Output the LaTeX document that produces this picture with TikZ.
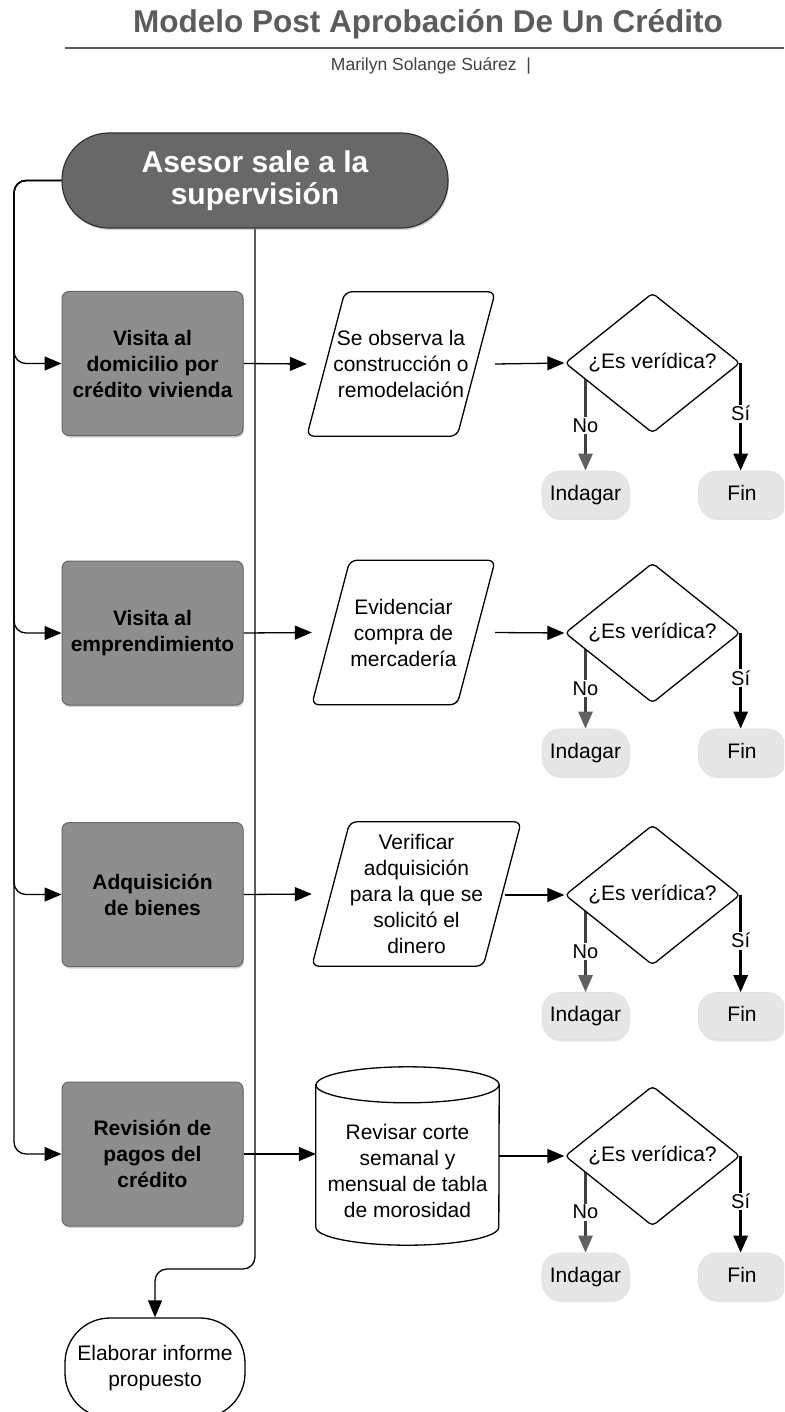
\documentclass[tikz,border=0pt]{standalone}
\usepackage{fontspec}
\setmainfont{Liberation Sans}
\usetikzlibrary{arrows.meta,shadows,backgrounds,shapes.geometric}

\definecolor{termfill}{RGB}{104,104,104}
\definecolor{procfill}{RGB}{142,142,142}
\definecolor{endfill}{RGB}{230,230,230}
\definecolor{titlegray}{RGB}{92,92,92}

\tikzset{
  bodyfont/.style={font=\fontsize{21}{26}\selectfont},
  terminal/.style={rounded corners=47pt, minimum width=386pt, minimum height=95pt,
    fill=termfill, draw=black!80, line width=1.2pt, text=white, align=center,
    font=\bfseries\fontsize{30}{32}\selectfont,
    drop shadow={opacity=0.35, shadow xshift=1pt, shadow yshift=-2pt}},
  procbox/.style={rounded corners=7pt, minimum width=181pt, minimum height=144pt,
    fill=procfill, draw=black!60, line width=1pt, align=center, inner sep=2pt,
    font=\bfseries\fontsize{21}{26}\selectfont,
    drop shadow={opacity=0.35, shadow xshift=1pt, shadow yshift=-2pt}},
  slot/.style={minimum height=144pt, inner sep=0pt, align=center, bodyfont},
  outline/.style={draw=black, line width=1.3pt, fill=white, rounded corners=7pt},
  decision/.style={diamond, draw=black, line width=1.3pt, fill=white, rounded corners=4pt,
    minimum width=175pt, minimum height=140pt, inner sep=0pt, aspect=1.25, bodyfont},
  endbox/.style={rounded corners=18pt, minimum width=87pt, minimum height=47pt,
    fill=endfill, draw=black!12, line width=0.6pt, bodyfont,
    text height=15pt, text depth=4pt,
    drop shadow={opacity=0.2, shadow xshift=1pt, shadow yshift=-2pt}},
  reportbox/.style={rounded corners=45pt, minimum width=180pt, minimum height=100pt,
    fill=white, draw=black, line width=1.3pt, align=center, bodyfont},
  link/.style={draw=black, line width=1.3pt, -{Triangle[length=17pt,width=14pt]}},
  nolink/.style={draw=black!75, line width=2.6pt, -{Triangle[length=17pt,width=14pt,color=black!62,fill=black!62]}},
  yeslink/.style={draw=black, line width=2.8pt, -{Triangle[length=17pt,width=14pt]}},
  lbl/.style={fill=white, inner sep=1.5pt, font=\fontsize{20}{24}\selectfont}
}

\begin{document}
\begin{tikzpicture}[x=1pt,y=-1pt]
\useasboundingbox (0,0) rectangle (784,1412);
\clip (0,0) rectangle (784,1412);

% heading
\node[font=\bfseries\fontsize{31.5}{36}\selectfont, text=titlegray, anchor=base] (title) at (428,33) {Modelo Post Aprobación De Un Crédito};
\draw[titlegray, line width=2pt] (65,48) -- (784,48);
\node[font=\fontsize{17.5}{20}\selectfont, text=black!75, anchor=base] (author) at (431,71) {Marilyn Solange Suárez\ \ |};

% start
\node[terminal] (t) at (255,180.5) {Asesor sale a la\\supervisión};

% activities
\node[procbox] (b1) at (152.5,363.5) {Visita al\\domicilio por\\crédito vivienda};
\node[procbox] (b2) at (152.5,633) {Visita al\\emprendimiento};
\node[procbox] (b3) at (152.5,894.5) {Adquisición\\de bienes};
\node[procbox] (b4) at (152.5,1154) {Revisión de\\pagos del\\crédito};

% inputs / data
\node[slot, minimum width=188pt] (p1) at (401,364) {Se observa la\\construcción o\\remodelación};
\node[slot, minimum width=183pt] (p2) at (403.5,632.5) {Evidenciar\\compra de\\mercadería};
\node[slot, minimum width=209pt] (p3) at (416.5,894) {Verificar\\adquisición\\para la que se\\solicitó el\\dinero};
\node[slot, minimum width=183pt, minimum height=178pt] (c4) at (407.5,1156) {};
\node[bodyfont, align=center] (c4text) at (407.5,1171) {Revisar corte\\semanal y\\mensual de tabla\\de morosidad};

% checks
\node[decision] (d1) at (652.5,363) {¿Es verídica?};
\node[decision] (d2) at (652.5,633) {¿Es verídica?};
\node[decision] (d3) at (652.5,895) {¿Es verídica?};
\node[decision] (d4) at (652.5,1156) {¿Es verídica?};

% outcomes
\node[endbox] (i1) at (585.5,494.5) {Indagar};
\node[endbox] (i2) at (585.5,752.5) {Indagar};
\node[endbox] (i3) at (585.5,1016) {Indagar};
\node[endbox] (i4) at (585.5,1276.5) {Indagar};
\node[endbox] (f1) at (742,494.5) {Fin};
\node[endbox] (f2) at (742,752.5) {Fin};
\node[endbox] (f3) at (742,1016) {Fin};
\node[endbox] (f4) at (742,1276.5) {Fin};

% report
\node[reportbox] (e) at (155,1368) {Elaborar informe\\propuesto};

\coordinate (lb) at (14,0);
\coordinate (rb) at (0,1269);

\begin{pgfonlayer}{background}
  % parallelogram and cylinder outlines behind their texts
  \foreach \p in {p1,p2,p3}{
    \path[outline] ([xshift=38pt]\p.north west) -- (\p.north east)
      -- ([xshift=-38pt]\p.south east) -- (\p.south west) -- cycle;
  }
  \path[outline, rounded corners=0pt] ([yshift=-18pt]c4.north west) -- ([yshift=18pt]c4.south west)
    arc[start angle=180, end angle=360, x radius=91.5pt, y radius=18pt]
    -- ([yshift=-18pt]c4.north east)
    arc[start angle=0, end angle=180, x radius=91.5pt, y radius=18pt] -- cycle;
  \draw[draw=black, line width=1.3pt] ([yshift=-18pt]c4.north west)
    arc[start angle=180, end angle=360, x radius=91.5pt, y radius=18pt];

  % distribution from the start to each activity
  \foreach \b in {b1,b2,b3,b4}{
    \draw[link, rounded corners=12pt] (t.west) -- (t.west -| lb) |- (\b.west);
  }
  % route to the report
  \draw[link, rounded corners=12pt] (t.south) -- (t.south |- rb) -| (e.north);

  % rows
  \draw[link] (b1.east) -- (p1.west);
  \draw[link] (b2.east) -- (p2.west);
  \draw[link] (b3.east) -- (p3.west);
  \draw[link] (b4.east) -- (b4.east -| c4.west);
  \draw[link] (p1.east) -- (d1.west);
  \draw[link] (p2.east) -- (d2.west);
  \draw[link, shorten <=-16pt] (p3.east |- d3.west) -- (d3.west);
  \draw[link] (c4.east |- d4.west) -- (d4.west);

  \foreach \n in {1,2,3,4}{
    \draw[nolink] (i\n.north |- d\n.center) -- node[lbl, pos=0.58] {No} (i\n.north);
    \draw[yeslink] (d\n.east) -- node[lbl, pos=0.47] {Sí} (d\n.east |- f\n.north);
  }
\end{pgfonlayer}
\end{tikzpicture}
\end{document}
